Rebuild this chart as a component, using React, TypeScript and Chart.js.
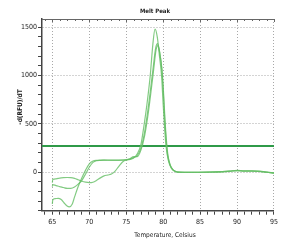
import React, { useEffect, useRef } from 'react';
import { Chart, registerables } from 'chart.js';
Chart.register(...registerables);

const chartTitle = 'Melt Peak';
const xTitle = 'Temperature, Celsius';
const yTitle = '-d(RFU)/dT';
const threshold = 270;
const xMin = 63.6;
const xMax = 95;
const yMin = -400;
const yMax = 1585;

const tempsA = [65, 65.05, 65.5, 66, 66.5, 67, 67.5, 68, 68.5, 69, 69.5, 70, 70.5, 71, 71.5, 72, 72.5, 73, 73.5, 74, 74.5, 75, 75.5, 76, 76.5, 77, 77.4, 77.8, 78.25, 78.6, 78.9, 79.2, 79.5, 79.8, 80.0, 80.2, 80.4, 80.7, 81.1, 81.6, 82, 84, 86, 88, 89, 90, 91, 92, 93, 94, 95];
const valuesA = [-110, -78, -70, -62, -58, -56, -58, -66, -80, -95, -105, -110, -105, -85, -60, -40, -30, -20, 10, 60, 105, 125, 130, 145, 190, 290, 480, 700, 1000, 1320, 1480, 1400, 1200, 980, 700, 450, 260, 120, 40, 8, 0, -2, 0, 5, 10, 18, 12, 12, 10, 0, -12];

const tempsB = [65, 65.05, 65.5, 66, 66.5, 67, 67.5, 68, 68.5, 69, 69.5, 70, 70.5, 71, 71.5, 72, 73, 74, 75, 75.5, 76, 76.5, 77, 77.5, 78, 78.6, 79.0, 79.25, 79.5, 79.8, 80.0, 80.2, 80.4, 80.6, 80.9, 81.3, 81.7, 82, 84, 86, 88, 89, 90, 91, 92, 93, 94, 95];
const valuesB = [-150, -130, -140, -150, -160, -168, -168, -155, -125, -85, -20, 50, 100, 118, 122, 123, 122, 122, 125, 135, 150, 170, 250, 420, 680, 1050, 1290, 1330, 1250, 1080, 850, 560, 330, 180, 80, 25, 5, 0, -3, -2, 3, 8, 15, 10, 10, 6, -2, -8];

const tempsC = [65, 65.05, 65.4, 65.8, 66.2, 66.6, 67, 67.3, 67.7, 68, 68.5, 69, 69.5, 70, 70.5, 71, 72, 73, 74, 75, 75.5, 76, 76.5, 77, 77.5, 78, 78.65, 79.05, 79.3, 79.55, 79.85, 80.05, 80.25, 80.45, 80.65, 80.95, 81.35, 81.75, 82, 84, 86, 88, 89, 90, 91, 92, 93, 94, 95];
const valuesC = [-330, -290, -275, -272, -285, -320, -352, -360, -330, -260, -150, -60, 20, 85, 115, 122, 124, 125, 125, 128, 138, 160, 160, 230, 380, 620, 1020, 1270, 1310, 1230, 1050, 820, 540, 320, 170, 75, 22, 4, 0, -2, 0, 4, 9, 16, 11, 11, 8, 0, -10];

const NARROW = "'Liberation Sans Narrow', 'DejaVu Sans Condensed', 'Liberation Sans', sans-serif";

const toPts = (t: number[], v: number[]) => t.map((x, i) => ({ x, y: v[i] }));

const overlay = {
  id: 'overlay',
  afterDraw(chart: any) {
    const { ctx, chartArea, scales } = chart;
    ctx.save();
    ctx.strokeStyle = '#666';
    ctx.lineWidth = 1;
    ctx.beginPath();
    ctx.moveTo(chartArea.left, chartArea.top + 0.5);
    ctx.lineTo(chartArea.right, chartArea.top + 0.5);
    ctx.stroke();
    for (let t = 64; t <= 95; t++) {
      const px = Math.round(scales.x.getPixelForValue(t)) + 0.5;
      ctx.beginPath();
      ctx.moveTo(px, chartArea.top);
      ctx.lineTo(px, chartArea.top + (t % 5 === 0 ? 3 : 2));
      ctx.stroke();
    }
    ctx.fillStyle = '#222';
    ctx.textAlign = 'center';
    ctx.textBaseline = 'middle';
    ctx.font = `bold 6px ${NARROW}`;
    ctx.fillText(chartTitle, 155, 11);
    ctx.font = `6.5px ${NARROW}`;
    ctx.fillText(xTitle, 165, 235.5);
    ctx.translate(20.5, 107);
    ctx.rotate(-Math.PI / 2);
    ctx.font = `bold 6.5px ${NARROW}`;
    ctx.fillText(yTitle, 0, 0);
    ctx.restore();
  },
};

export default function App() {
  const ref = useRef<HTMLCanvasElement | null>(null);
  useEffect(() => {
    document.body.style.margin = '0';
    if (!ref.current) return;
    const lineStyle = {
      borderColor: 'rgba(100,190,100,0.8)',
      borderWidth: 1.2,
      pointRadius: 0,
      cubicInterpolationMode: 'monotone' as const,
      fill: false,
    };
    const chart = new Chart(ref.current, {
      type: 'line',
      data: {
        datasets: [
          { ...lineStyle, data: toPts(tempsA, valuesA) },
          { ...lineStyle, data: toPts(tempsB, valuesB) },
          { ...lineStyle, data: toPts(tempsC, valuesC) },
          {
            data: [{ x: xMin, y: threshold }, { x: xMax, y: threshold }],
            borderColor: '#2f9a48',
            borderWidth: 2,
            pointRadius: 0,
          },
        ],
      },
      options: {
        animation: false,
        responsive: false,
        events: [],
        layout: { padding: { top: 19, right: 4, left: 0, bottom: 0 } },
        plugins: { legend: { display: false }, title: { display: false }, tooltip: { enabled: false } },
        scales: {
          x: {
            type: 'linear',
            min: xMin,
            max: xMax,
            afterFit: (s: any) => { s.height = 30.3; },
            ticks: {
              stepSize: 1,
              includeBounds: false,
              autoSkip: false,
              maxRotation: 0,
              maxTicksLimit: 100,
              padding: 3,
              color: '#222',
              font: { family: NARROW, size: 7 },
              callback: (v: any) => (Math.round(Number(v)) % 5 === 0 ? String(Math.round(Number(v))) : ''),
            },
            grid: {
              color: (c: any) => (c.tick && Math.round(c.tick.value) % 5 === 0 ? '#a8a8a8' : 'rgba(0,0,0,0)'),
              tickColor: '#444',
              tickLength: 4,
              lineWidth: 1,
            },
            border: { display: true, color: '#444', width: 1.5, dash: [1, 2] },
          },
          y: {
            type: 'linear',
            min: yMin,
            max: yMax,
            afterFit: (s: any) => { s.width = 42; },
            ticks: {
              stepSize: 100,
              includeBounds: false,
              autoSkip: false,
              maxTicksLimit: 100,
              padding: 1,
              color: '#222',
              font: { family: NARROW, size: 7 },
              callback: (v: any) => {
                const n = Math.round(Number(v));
                return n % 500 === 0 && n >= 0 ? String(n) : '';
              },
            },
            grid: {
              color: (c: any) => {
                const n = c.tick ? Math.round(c.tick.value) : -1;
                return n % 500 === 0 && n >= 0 ? '#a8a8a8' : 'rgba(0,0,0,0)';
              },
              tickColor: '#444',
              tickLength: 4,
              lineWidth: 1,
            },
            border: { display: true, color: '#444', width: 1.5, dash: [1, 2] },
          },
        },
      },
      plugins: [overlay],
    });
    return () => chart.destroy();
  }, []);
  return (
    <div style={{ width: 281, height: 241 }}>
      <canvas ref={ref} width={281} height={241} />
    </div>
  );
}
